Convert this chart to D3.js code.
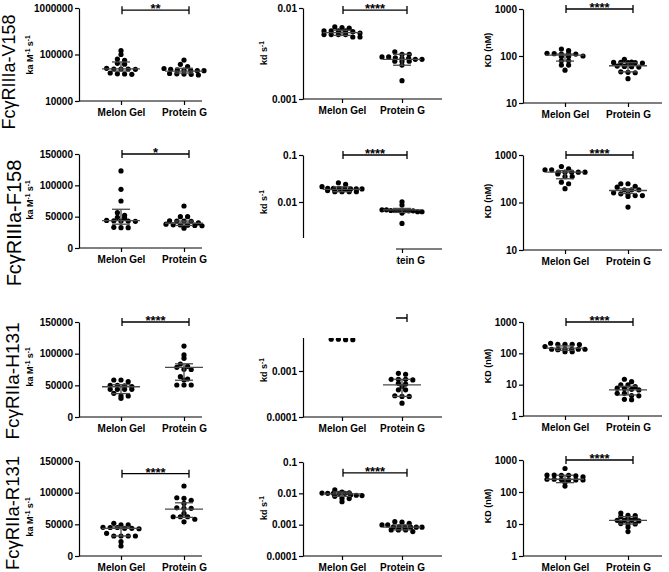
<!DOCTYPE html>
<html>
<head>
<meta charset="utf-8">
<script src="https://cdn.jsdelivr.net/npm/d3@7"></script>
<style>
  body { margin: 0; background: #fff; }
  svg { display: block; }
  text { font-family: Arial, "Liberation Sans", sans-serif; }
</style>
</head>
<body>
<svg id="chart" width="669" height="572"></svg>
<script>
// ---- data ----
const groups = ["Melon Gel", "Protein G"];
const receptors = ["FcγRIIIa-V158", "FcγRIIIa-F158", "FcγRIIa-H131", "FcγRIIa-R131"];

// y tick values per panel
const kaLogTicks = [10000, 100000, 1000000];
const kaTicks = [0, 50000, 100000, 150000];
const kdTicksV158 = [0.001, 0.01];
const kdTicksF158 = [0.001, 0.01, 0.1];
const kdTicksH131 = [0.0001, 0.001, 0.01];
const kdTicksR131 = [0.0001, 0.001, 0.01, 0.1];
const KDTicksHigh = [10, 100, 1000];
const KDTicksLow = [1, 10, 100, 1000];

// V158
const kaV158_MG = [121000, 100000, 80000, 75000, 64600, 62000, 48800, 48800, 50500, 48800, 48000, 38100, 37500, 40000, 38500];
const kaV158_PG = [76000, 61500, 55000, 50000, 44800, 45000, 45500, 46000, 46500, 48000, 38000, 38500, 39000, 36200, 37500];
const kdV158_MG = [0.0062, 0.0061, 0.0060, 0.0056, 0.0056, 0.0056, 0.0056, 0.0055, 0.0053, 0.0051, 0.0051, 0.0051, 0.0051, 0.0048, 0.0048];
const kdV158_PG = [0.0033, 0.0031, 0.0031, 0.00284, 0.00273, 0.00273, 0.0028, 0.0029, 0.0029, 0.0028, 0.0026, 0.0026, 0.0026, 0.00236, 0.00159];
const KDV158_MG = [141, 130, 114, 110, 110, 110, 112, 97, 97, 100, 79, 79, 64, 64, 50];
const KDV158_PG = [85, 72, 73, 71, 73, 72, 74, 59, 60, 58, 44, 46, 45, 33, 61];

// F158
const kaF158_MG = [123000, 93700, 75000, 56300, 52000, 49000, 48000, 43000, 43000, 43500, 44000, 42500, 32500, 33000, 32500];
const kaF158_PG = [67000, 50000, 50000, 43000, 43000, 43500, 42500, 36700, 36000, 36500, 37000, 35500, 31500, 40000, 38000];
const kdF158_MG = [0.0257, 0.0238, 0.0212, 0.0195, 0.019, 0.0195, 0.019, 0.019, 0.0195, 0.0166, 0.0166, 0.0166, 0.0166, 0.019, 0.0175];
const kdF158_PG = [0.0101, 0.0086, 0.0065, 0.0068, 0.0066, 0.0066, 0.0065, 0.0068, 0.0066, 0.0065, 0.0062, 0.0062, 0.0058, 0.0035];
const KDF158_MG = [573, 512, 488, 488, 435, 435, 435, 435, 435, 400, 352, 352, 268, 248, 195];
const KDF158_PG = [248, 248, 220, 210, 185, 185, 185, 140, 152, 152, 140, 134, 80, 160];

// H131
const kaH131_MG = [55700, 49000, 48000, 50000, 50000, 58400, 58400, 43700, 43700, 43700, 43700, 29500, 33200, 33200, 37400];
const kaH131_PG = [112000, 92700, 98000, 78500, 80000, 83700, 75300, 63600, 60000, 58400, 50500, 50500, 50500, 75000];
const kdH131_MG = [0.0105, 0.0098, 0.0095, 0.0092, 0.009, 0.0088, 0.0085, 0.008, 0.0078, 0.0075, 0.007, 0.0065, 0.0049, 0.0048, 0.0049, 0.0048];
const kdH131_PG = [0.00089, 0.00085, 0.00066, 0.00064, 0.00066, 0.00066, 0.00054, 0.00052, 0.00039, 0.00039, 0.00046, 0.00029, 0.00028, 0.00028, 0.0002];
const KDH131_MG = [195, 210, 190, 195, 195, 135, 135, 135, 130, 135, 135, 135, 113, 113, 165];
const KDH131_PG = [14.9, 12.5, 9.8, 9.8, 8.6, 7.7, 7.5, 7.1, 5.3, 5.3, 4.4, 3.4, 3.3, 4.5, 6.8];

// R131
const kaR131_MG = [51600, 49000, 49000, 43700, 43000, 43700, 45000, 45000, 45300, 35800, 31600, 31600, 31600, 31600, 22600, 15800];
const kaR131_PG = [110500, 91000, 92000, 83000, 75300, 75300, 76000, 67400, 62000, 62000, 62000, 58000, 54000, 88000];
const kdR131_MG = [0.0129, 0.011, 0.010, 0.010, 0.010, 0.010, 0.0102, 0.0104, 0.0089, 0.0085, 0.0087, 0.008, 0.0070, 0.0068, 0.0054];
const kdR131_PG = [0.00125, 0.0012, 0.0011, 0.00098, 0.00098, 0.00083, 0.00083, 0.00083, 0.00083, 0.00085, 0.00085, 0.00068, 0.00068, 0.00068, 0.0006];
const KDR131_MG = [543, 334, 320, 340, 334, 340, 237, 250, 245, 250, 237, 237, 200, 153, 300];
const KDR131_PG = [22, 18.3, 18.5, 15.4, 17, 16, 13, 13, 13, 12.5, 10, 10.3, 10, 8, 5.8];

// [Q1, median, Q3] per group
const kaV158_stats = [[44000, 49000, 69000], [40000, 44000, 50500]];
const kdV158_stats = [[0.0050, 0.00535, 0.0057], [0.00235, 0.00273, 0.0031]];
const KDV158_stats = [[78, 104, 110], [46, 62, 72]];
const kaF158_stats = [[38000, 43600, 61800], [36000, 39500, 43000]];
const kdF158_stats = [[0.0166, 0.0186, 0.021], [0.006, 0.0068, 0.0073]];
const KDF158_stats = [[316, 435, 470], [155, 179, 195]];
const kaH131_stats = [[37000, 47800, 51000], [58000, 78500, 84000]];
const kdH131_stats = [[0.007, 0.0085, 0.0095], [0.00028, 0.0005, 0.00066]];
const KDH131_stats = [[125, 146, 172], [4.7, 6.8, 8.9]];
const kaR131_stats = [[31600, 43700, 46000], [61000, 74000, 84000]];
const kdR131_stats = [[0.008, 0.0096, 0.011], [0.00068, 0.00083, 0.00098]];
const KDR131_stats = [[196, 250, 334], [10, 13, 17]];

const stars = [["**", "****", "****"], ["*", "****", "****"], ["****", "****", "****"], ["****", "****", "****"]];
const bracketLevel = [[900000, 0.0095, 1000], [150000, 0.1, 1000], [150000, 0.0142, 1000], [130000, 0.045, 1000]];

// tables built from the arrays above
const tickSets = [
  [kaLogTicks, kdTicksV158, KDTicksHigh],
  [kaTicks, kdTicksF158, KDTicksHigh],
  [kaTicks, kdTicksH131, KDTicksLow],
  [kaTicks, kdTicksR131, KDTicksLow]
];
const values = [
  [[kaV158_MG, kaV158_PG], [kdV158_MG, kdV158_PG], [KDV158_MG, KDV158_PG]],
  [[kaF158_MG, kaF158_PG], [kdF158_MG, kdF158_PG], [KDF158_MG, KDF158_PG]],
  [[kaH131_MG, kaH131_PG], [kdH131_MG, kdH131_PG], [KDH131_MG, KDH131_PG]],
  [[kaR131_MG, kaR131_PG], [kdR131_MG, kdR131_PG], [KDR131_MG, KDR131_PG]]
];
const stats = [
  [kaV158_stats, kdV158_stats, KDV158_stats],
  [kaF158_stats, kdF158_stats, KDF158_stats],
  [kaH131_stats, kdH131_stats, KDH131_stats],
  [kaR131_stats, kdR131_stats, KDR131_stats]
];

// ---- layout ----
const colLayout = [
  { x0: 79, x1: 202, c: [121, 184], titleX: 33 },
  { x0: 303, x1: 442, c: [342, 402], titleX: 267 },
  { x0: 523, x1: 662, c: [565, 628], titleX: 491 }
];
// [bottom, top] pixel of y range per panel
const rowLayout = [
  [[101, 8], [99, 8], [103, 9]],
  [[248, 154], [249, 155], [250, 155]],
  [[417, 322], [417, 325], [416, 322]],
  [[556, 461], [556, 462], [556, 460]]
];
const titleY = [[55, 53, 50], [200, 202, 201], [367, 370, 366], [517, 508, 506]];
const rowLabel = [
  { x: 15, y: 72, size: 18 },
  { x: 21, y: 223, size: 20 },
  { x: 19, y: 381, size: 19 },
  { x: 19, y: 513, size: 18.5 }
];

const svg = d3.select("#chart");
const fmt = v => v >= 1 ? d3.format("d")(v) : String(v);

// Prism-like scatter: points close in y share a row, spread evenly, row width capped
function swarm(vals, y, cx) {
  const pts = vals.map(v => ({ v, y: y(v) })).sort((a, b) => a.y - b.y);
  const rows = [];
  pts.forEach(p => {
    const last = rows[rows.length - 1];
    if (last && p.y - last[0].y < 3) last.push(p);
    else rows.push([p]);
  });
  rows.forEach(row => {
    const n = row.length;
    const step = n > 1 ? Math.min(7.2, 40 / (n - 1)) : 0;
    row.forEach((p, i) => { p.x = cx + (i - (n - 1) / 2) * step; });
  });
  return pts;
}

function titleText(sel, c) {
  if (c === 0) {
    sel.append("tspan").text("ka M");
    sel.append("tspan").attr("baseline-shift", "super").attr("font-size", 6.5).text("-1");
    sel.append("tspan").text(" s");
    sel.append("tspan").attr("baseline-shift", "super").attr("font-size", 6.5).text("-1");
  } else if (c === 1) {
    sel.append("tspan").text("kd s");
    sel.append("tspan").attr("baseline-shift", "super").attr("font-size", 6.5).text("-1");
  } else {
    sel.text("KD (nM)");
  }
}

for (let r = 0; r < 4; r++) {
  for (let c = 0; c < 3; c++) {
    const L = colLayout[c];
    const [yb, yt] = rowLayout[r][c];
    const ticks = tickSets[r][c];
    const dom = d3.extent(ticks);
    const y = (c === 0 && r > 0)
      ? d3.scaleLinear().domain(dom).range([yb, yt])
      : d3.scaleLog().domain(dom).range([yb, yt]);
    const x = d3.scaleOrdinal().domain(groups).range(L.c);
    const g = svg.append("g");

    // y axis
    const ya = g.append("g")
      .attr("transform", `translate(${L.x0},0)`)
      .call(d3.axisLeft(y).tickValues(ticks).tickFormat(fmt).tickSize(4).tickSizeOuter(0));

    // x axis
    const xa = g.append("g")
      .attr("transform", `translate(0,${yb})`)
      .call(d3.axisBottom(x).tickSize(4).tickSizeOuter(0));
    xa.select(".domain").attr("d", `M${L.x0},0H${L.x1}`);
    xa.selectAll(".tick text").attr("y", 15).attr("dy", 0);

    [ya, xa].forEach(a => {
      a.attr("font-family", null).attr("font-size", null);
      a.selectAll("path, line").attr("stroke", "#000").attr("stroke-width", 1.2);
      a.selectAll("text").attr("font-size", 10).attr("font-weight", "bold").attr("fill", "#000");
    });
    ya.selectAll(".tick text").attr("x", -6);

    // axis title
    g.append("text")
      .attr("transform", `translate(${L.titleX},${titleY[r][c]}) rotate(-90)`)
      .attr("text-anchor", "middle")
      .attr("font-size", 9)
      .attr("font-weight", "bold")
      .call(sel => titleText(sel, c));

    // dots + median / interquartile range
    groups.forEach((grp, gi) => {
      const pts = swarm(values[r][c][gi], y, x(grp));
      g.append("g").selectAll("circle").data(pts).join("circle")
        .attr("cx", d => d.x).attr("cy", d => d.y).attr("r", 2.6).attr("fill", "#000");

      const [q1, med, q3] = stats[r][c][gi];
      const cx = x(grp);
      const s = g.append("g").attr("stroke", "#4a4a4a").attr("stroke-width", 1.3);
      s.append("line").attr("x1", cx - 19).attr("x2", cx + 19).attr("y1", y(med)).attr("y2", y(med));
      s.append("line").attr("x1", cx).attr("x2", cx).attr("y1", y(q1)).attr("y2", y(q3));
      [q1, q3].forEach(q => s.append("line").attr("x1", cx - 9).attr("x2", cx + 9).attr("y1", y(q)).attr("y2", y(q)));
    });

    // significance bracket
    const by = y(bracketLevel[r][c]);
    const xa0 = x(groups[0]) + 1, xa1 = x(groups[1]) + 5;
    g.append("path")
      .attr("d", `M${xa0},${by - 4}V${by + 4}M${xa0},${by}H${xa1}M${xa1},${by - 4}V${by + 4}`)
      .attr("stroke", "#000").attr("stroke-width", 1.3).attr("fill", "none");
    g.append("text")
      .attr("x", (xa0 + xa1) / 2).attr("y", by + 3)
      .attr("text-anchor", "middle")
      .attr("font-size", 13).attr("font-weight", "bold")
      .text(stars[r][c]);
  }

  // receptor label
  const rl = rowLabel[r];
  svg.append("text")
    .attr("transform", `translate(${rl.x},${rl.y}) rotate(-90)`)
    .attr("text-anchor", "middle")
    .attr("font-size", rl.size)
    .text(receptors[r]);
}

// white patch from the pasted figure (hides parts of the middle panels)
svg.append("rect")
  .attr("x", 246).attr("y", 238).attr("width", 150).attr("height", 100)
  .attr("fill", "#fff");
</script>
</body>
</html>
